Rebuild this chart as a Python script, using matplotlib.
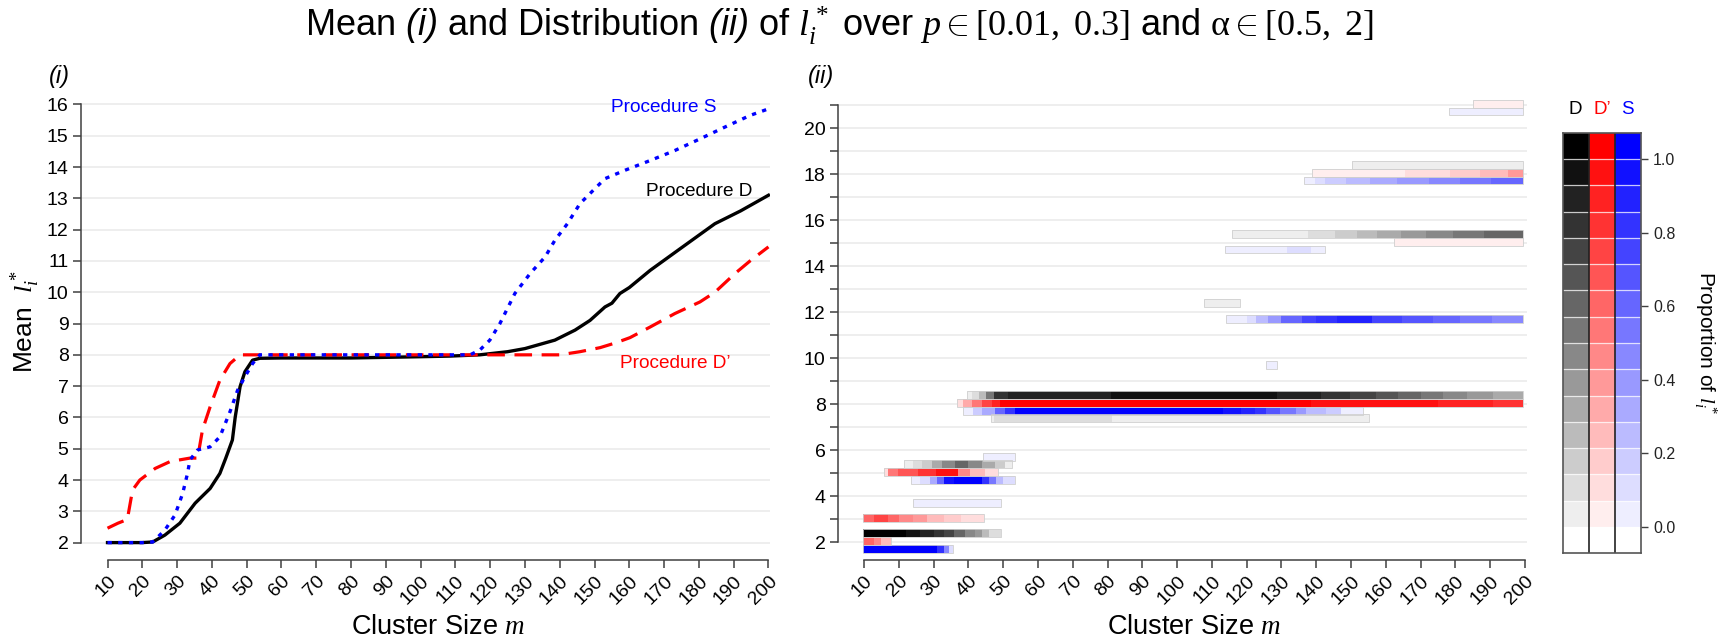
import numpy as np
import matplotlib
matplotlib.use("Agg")
import matplotlib.pyplot as plt
from matplotlib.colors import ListedColormap
from matplotlib.patches import Rectangle

plt.rcParams['font.family'] = ['Liberation Sans', 'DejaVu Sans']
plt.rcParams['mathtext.fontset'] = 'custom'
plt.rcParams['mathtext.rm'] = 'Liberation Serif'
plt.rcParams['mathtext.it'] = 'Liberation Serif:italic'
plt.rcParams['mathtext.bf'] = 'Liberation Serif:bold'
plt.rcParams['mathtext.sf'] = 'Liberation Sans:italic'

# ---- panel (i): mean l* per cluster size ----
m_D = [10, 15, 20, 23, 26.5, 30.8, 35.2, 39.5, 42.3, 44, 45.9, 46.7, 48.1, 49.5, 51.7, 53.8,
       60, 70, 80, 90, 100, 108.5, 117, 125, 130, 138.6, 144.4, 148.7, 153, 155, 157.3, 160,
       166, 174.6, 184.6, 192, 200]
mean_D = [2.0, 2.0, 2.0, 2.02, 2.24, 2.62, 3.26, 3.73, 4.21, 4.7, 5.28, 6.0, 6.98, 7.46, 7.83, 7.89,
          7.9, 7.9, 7.9, 7.92, 7.94, 7.96, 8.0, 8.1, 8.2, 8.47, 8.79, 9.1, 9.53, 9.65, 9.96, 10.15,
          10.7, 11.39, 12.19, 12.6, 13.1]

m_Dp = [10, 13, 15.7, 17.2, 19.3, 23.7, 28, 33.7, 35.9, 37.3, 39.5, 42.3, 45.2, 48.1, 60, 80, 100,
        120, 140, 145.8, 151.6, 156, 160.2, 166, 173.1, 180.3, 184.6, 190.4, 194.7, 200]
mean_Dp = [2.46, 2.62, 2.74, 3.68, 4.0, 4.37, 4.59, 4.7, 4.7, 5.6, 6.34, 7.19, 7.72, 8.0, 8.0, 8.0, 8.0,
           8.0, 8.0, 8.1, 8.23, 8.38, 8.55, 8.89, 9.32, 9.69, 10.0, 10.6, 11.0, 11.45]

m_S = [10, 15, 20, 23, 26.5, 29.4, 31.6, 33, 33.7, 35.9, 39.5, 42.3, 45.2, 47.4, 49.5, 51.7, 53.8,
       70, 90, 114.2, 117, 119.9, 122.8, 127.1, 131.5, 135.8, 138.6, 142.2, 145.8, 150.1, 153,
       158.8, 166, 173.1, 180.3, 187.5, 194.7, 200]
mean_S = [2.0, 2.0, 2.0, 2.02, 2.4, 2.88, 3.57, 4.21, 4.64, 4.96, 5.06, 5.38, 6.18, 6.87, 7.3, 7.72, 8.0,
          8.0, 8.0, 8.0, 8.15, 8.47, 9.0, 9.96, 10.6, 11.13, 11.66, 12.19, 12.83, 13.31, 13.63,
          13.9, 14.21, 14.53, 14.9, 15.28, 15.65, 15.86]

# ---- panel (ii): shade level (0..15) of each l* row, as runs over m ----
# l*: (run edges in m, shade level of each run)
shade_D = {
    2: ([9.8, 22, 26, 30, 33, 36, 39, 42, 44, 46, 49.5], [15, 14, 13, 12, 11, 9, 7, 6, 4, 2]),
    5: ([21.6, 24, 26.6, 29.5, 32.3, 36.1, 40, 43.8, 47.6, 50.5, 52.5], [1, 2, 3, 5, 7, 9, 7, 5, 3, 1]),
    7: ([46.5, 47.5, 81.2, 155.3], [1, 2, 1]),
    8: ([39.5, 41, 43, 45, 47.5, 51.5, 81, 128.6, 141.5, 149.7, 157.3, 163.5, 170.2, 176.5, 183.2, 190.8, 199.5],
        [1, 2, 4, 8, 12, 13, 14, 13, 12, 11, 10, 9, 8, 7, 6, 5]),
    12: ([107.7, 118], [1]),
    15: ([115.8, 137.7, 145.5, 151.6, 157.5, 164.5, 171.5, 179.3, 188.2, 199.5], [1, 2, 3, 4, 5, 6, 7, 8, 9]),
    18: ([150.4, 199.5], [1]),
}
shade_Dp = {
    2: ([9.8, 13, 15, 17.8], [9, 7, 4]),
    3: ([9.8, 13, 17, 20, 24, 28, 33, 38, 44.6], [9, 11, 9, 7, 6, 4, 3, 2]),
    5: ([15.8, 17, 19.9, 25.6, 30.8, 37.1, 40.5, 44.7, 48.6], [2, 8, 10, 12, 14, 7, 4, 2]),
    8: ([36.6, 38.6, 41, 43.9, 46.7, 49.1, 138.6, 175.1, 190.8, 199.5], [2, 5, 8, 11, 13, 15, 14, 13, 12]),
    15: ([162.4, 199.5], [1]),
    18: ([138.7, 165.4, 178.4, 187.2, 195.1, 199.5], [1, 2, 3, 4, 6]),
    21: ([185.1, 199.5], [1]),
}
shade_S = {
    2: ([9.8, 31, 33, 34.5, 35.6], [15, 12, 7, 2]),
    4: ([24.2, 49.5], [1]),
    5: ([23.4, 26, 29, 31, 33, 36, 44, 46, 48, 50, 53.4], [1, 2, 5, 9, 14, 15, 12, 8, 4, 2]),
    6: ([44.3, 53.4], [1]),
    8: ([38.5, 41.4, 43.8, 47.6, 50.5, 53.4, 113.2, 118.5, 122.3, 125.7, 129.5, 134.3, 137.2, 142.9, 147.2, 153.4],
        [1, 3, 5, 9, 12, 15, 14, 13, 12, 10, 8, 6, 4, 3, 1]),
    10: ([125.5, 128.8], [1]),
    12: ([114, 120, 122.6, 126, 130, 136, 140, 146, 156, 164.6, 173.7, 181.4, 190.5, 199.5],
         [1, 2, 4, 6, 9, 11, 12, 13, 11, 10, 9, 8, 7]),
    15: ([113.9, 131.6, 138.6, 142.5], [1, 2, 1]),
    18: ([136.4, 139.6, 142.5, 148.5, 155.4, 163.2, 172.4, 181.3, 190.2, 199.5], [1, 2, 3, 4, 5, 6, 7, 8, 9]),
    21: ([178.2, 199.5], [1]),
}

cb_ticks = [0.0, 0.2, 0.4, 0.6, 0.8, 1.0]

W, H = 1726, 642
fig = plt.figure(figsize=(W / 100, H / 100), dpi=100)


def fx(px):
    return px / W


def fy(py):
    return 1 - py / H


AX_C = '#404040'


def style_axes(ax, ytop):
    for s in ('top', 'right'):
        ax.spines[s].set_visible(False)
    for s in ('left', 'bottom'):
        ax.spines[s].set_color(AX_C)
        ax.spines[s].set_linewidth(1.1)
    ax.spines['left'].set_bounds(2, ytop)
    ax.spines['bottom'].set_bounds(10, 200)
    ax.set_xticks(range(10, 201, 10))
    ax.tick_params(axis='both', which='both', length=6, width=1.1, color=AX_C,
                   labelsize=14, pad=3)
    plt.setp(ax.get_xticklabels(), rotation=45, ha='right', rotation_mode='anchor')
    ax.grid(axis='y', which='both', color='#ebebeb', lw=1.2)
    ax.set_axisbelow(True)


# ---------- panel (i) ----------
ax1 = fig.add_axes([fx(81), 0.12773, 689.2 / W, 0.7217])
ax1.set_xlim(2.38, 200.5)
ax1.set_ylim(1.444, 16.25)
ax1.set_yticks(range(2, 17))
style_axes(ax1, 16)

ax1.plot(m_D, mean_D, color='black', lw=2.4, zorder=3)
ax1.plot(m_Dp, mean_Dp, color='#ff0000', lw=2.3, dashes=(5.5, 3), zorder=3)
ax1.plot(m_S, mean_S, color='#0000ff', lw=2.4, dashes=(1.3, 1.9), zorder=4)

ax1.text(170, 15.89, 'Procedure S', color='#0000ff', fontsize=13.7, ha='center', va='center')
ax1.text(180, 13.21, 'Procedure D', color='black', fontsize=13.7, ha='center', va='center')
ax1.text(173.3, 7.73, 'Procedure D\u2019', color='#ff0000', fontsize=13.7, ha='center', va='center')

# ---------- panel (ii) ----------
ax2 = fig.add_axes([fx(838), 0.12773, 688.7 / W, 0.7217])
ax2.set_xlim(2.527, 200.5)
ax2.set_ylim(1.23, 21.37)
ax2.set_yticks(range(2, 21, 2))
ax2.set_yticks(range(3, 22, 2), minor=True)
style_axes(ax2, 21)


def shade_cmap(kind):
    cols = []
    for k in range(16):
        v = 1 - k / 15
        cols.append({'D': (v, v, v), 'Dp': (1, v, v), 'S': (v, v, 1)}[kind])
    return ListedColormap(cols)


cmaps = {k: shade_cmap(k) for k in ('D', 'Dp', 'S')}
band_h = 1 / 3
for rows, kind, off in [(shade_D, 'D', 0.39), (shade_Dp, 'Dp', 0.055), (shade_S, 'S', -0.28)]:
    for l, (edges, levels) in rows.items():
        y0 = l + off - band_h / 2
        ax2.pcolormesh(edges, [y0, y0 + band_h], [levels], cmap=cmaps[kind],
                       vmin=-0.5, vmax=15.5, zorder=2)
        ax2.add_patch(Rectangle((edges[0], y0), edges[-1] - edges[0], band_h, fill=False,
                                ec='#cfcfcf', lw=0.6, zorder=3))

# ---------- legend colour bar ----------
axc = fig.add_axes([fx(1563.3), fy(553.3), 77.4 / W, 420.6 / H])
ylev = np.linspace(-1 / 14, 15 / 14, 17)
for i, kind in enumerate(('D', 'Dp', 'S')):
    axc.pcolormesh([i, i + 1], ylev, np.arange(16).reshape(16, 1), cmap=cmaps[kind],
                   vmin=-0.5, vmax=15.5)
for y in ylev[1:-1]:
    axc.axhline(y, color='white', lw=0.9, alpha=0.75)
for x in (1, 2):
    axc.axvline(x, color='#222222', lw=1.2)
axc.set_xlim(0, 3)
axc.set_ylim(ylev[0], ylev[-1])
axc.set_xticks([])
axc.yaxis.tick_right()
axc.set_yticks(cb_ticks)
axc.set_yticklabels([f'{t:.1f}' for t in cb_ticks])
axc.tick_params(axis='y', length=5, width=1, color=AX_C, labelsize=11.5, pad=4, labelcolor='#222222')
for s in axc.spines.values():
    s.set_color('#555555')
    s.set_linewidth(1.2)
tr = axc.get_xaxis_transform()
axc.text(0.45, 1.054, 'D', color='black', fontsize=13.5, ha='center', va='center', transform=tr)
axc.text(1.5, 1.054, 'D\u2019', color='#ff0000', fontsize=13.5, ha='center', va='center', transform=tr)
axc.text(2.5, 1.054, 'S', color='#0000ff', fontsize=13.5, ha='center', va='center', transform=tr)

# ---------- texts ----------
fig.text(fx(839.6), fy(26),
         r'Mean $\mathsf{(i)}$ and Distribution $\mathsf{(ii)}$ of $l^*_i$ over '
         r'$p \in [0.01,\ 0.3]$ and $\mathrm{\alpha} \in [0.5,\ 2]$',
         ha='center', va='center', fontsize=26)
fig.text(fx(59), fy(77), '(i)', style='italic', fontsize=17, ha='center', va='center')
fig.text(fx(821), fy(77), '(ii)', style='italic', fontsize=17, ha='center', va='center')
fig.text(fx(25), fy(322), r'Mean  $l^*_i$', rotation=90, fontsize=19, ha='center', va='center')
fig.text(fx(438), fy(627), r'Cluster Size $m$', fontsize=19.5, ha='center', va='center')
fig.text(fx(1194.5), fy(627), r'Cluster Size $m$', fontsize=19.5, ha='center', va='center')
fig.text(fx(1705), fy(343), r'Proportion of $l^*_i$', rotation=270, fontsize=15,
         ha='center', va='center')

fig.savefig('out.png', dpi=100)
